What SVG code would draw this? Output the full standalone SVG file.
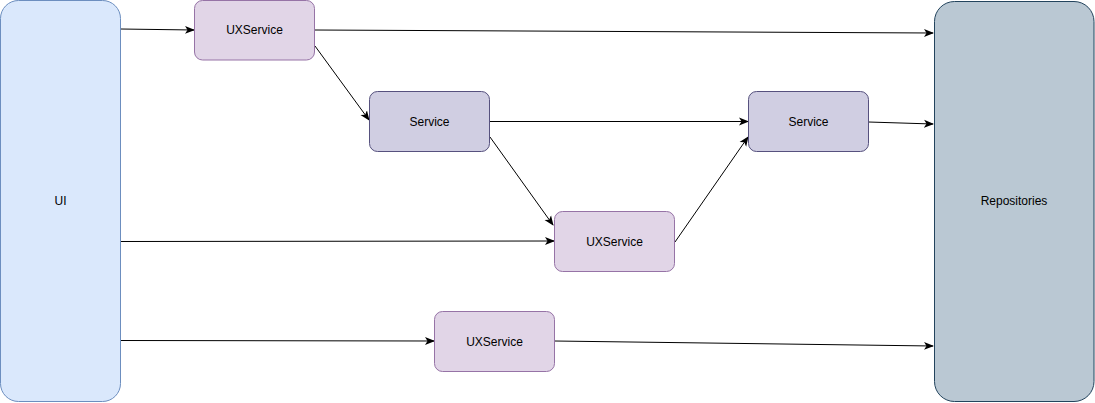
<svg xmlns="http://www.w3.org/2000/svg" width="1095" height="403" viewBox="0 0 1095 403">
<style>
text{font-family:"Liberation Sans",Arial,sans-serif;font-size:12px;fill:#000;text-anchor:middle;dominant-baseline:central}
.ui{fill:#dae8fc;stroke:#6c8ebf}
.ux{fill:#e1d5e7;stroke:#9673a6}
.sv{fill:#d0cee2;stroke:#56517e}
.rp{fill:#bac8d3;stroke:#23445d}
.e{fill:none;stroke:#000;stroke-width:1;marker-end:url(#a)}
</style>
<defs>
<marker id="a" viewBox="0 0 10 10" refX="9" refY="5" markerWidth="10" markerHeight="10" markerUnits="userSpaceOnUse" orient="auto">
<path d="M0,1 L10,5 L0,9 L2.5,5 Z" fill="#000"/>
</marker>
</defs>
<g id="connectors">
<path class="e" d="M120.5,29 L194,30"/>
<path class="e" d="M314.5,30 L933,33"/>
<path class="e" d="M315,46 L369,120"/>
<path class="e" d="M489.5,121.5 L748,121.5"/>
<path class="e" d="M490,137 L553,225"/>
<path class="e" d="M675,242 L748,137"/>
<path class="e" d="M120.5,241.5 L554,241"/>
<path class="e" d="M868.5,122 L933,124"/>
<path class="e" d="M120.5,340.5 L434,341"/>
<path class="e" d="M554.5,341 L933,346"/>
</g>
<g id="ui"><rect class="ui" x="0.5" y="0.5" width="120" height="401" rx="18"/><text x="60.5" y="201">UI</text></g>
<g id="uxservice1"><rect class="ux" x="194.5" y="0.5" width="120" height="59.5" rx="8"/><text x="254.5" y="30">UXService</text></g>
<g id="service1"><rect class="sv" x="369.5" y="91.5" width="120" height="60" rx="8"/><text x="429.5" y="121.5">Service</text></g>
<g id="service2"><rect class="sv" x="748.5" y="91.5" width="120" height="60" rx="8"/><text x="808.5" y="121.5">Service</text></g>
<g id="uxservice2"><rect class="ux" x="554.5" y="211.5" width="120" height="60" rx="8"/><text x="614.5" y="241.5">UXService</text></g>
<g id="uxservice3"><rect class="ux" x="434.5" y="311.5" width="120" height="60" rx="8"/><text x="494.5" y="341.5">UXService</text></g>
<g id="repositories"><rect class="rp" x="934.5" y="1.5" width="159.5" height="400" rx="20"/><text x="1014" y="201">Repositories</text></g>
</svg>
